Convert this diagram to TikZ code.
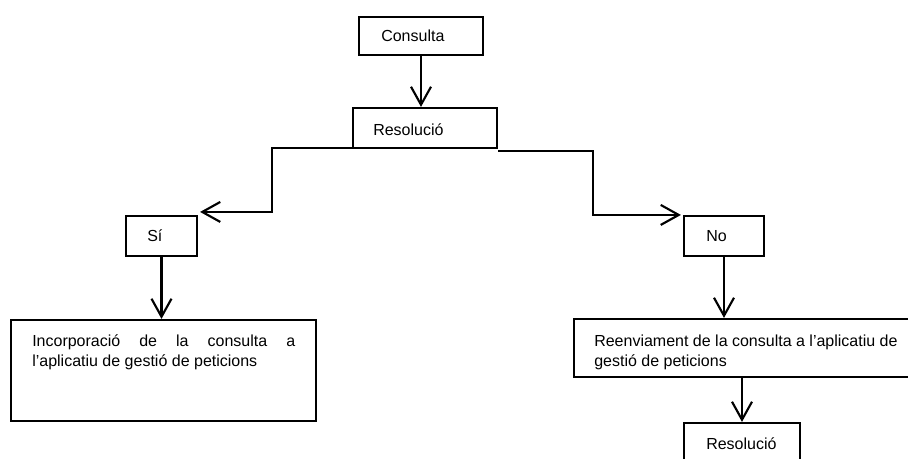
\documentclass[tikz,border=0pt]{standalone}
\usepackage{fontspec}
\setmainfont{Liberation Sans}
\usetikzlibrary{arrows.meta,calc}
\begin{document}
\begin{tikzpicture}[x=0.75pt,y=-0.75pt,
  box/.style={draw,line width=1.6pt,rectangle,inner sep=0pt},
  lbl/.style={inner sep=0pt,anchor=base west,font=\fontsize{12}{15}\selectfont},
  para/.style={inner sep=0pt,anchor=north west,align=left,font=\fontsize{12}{15}\selectfont},
  arr/.style={line width=1.6pt,-{Straight Barb[length=13.5pt,width=15pt,line width=1.6pt]}}]
\useasboundingbox (0,0) rectangle (908,458);
\clip (0,0) rectangle (908,458);
% boxes
\node[box,minimum width=93pt,minimum height=28.5pt] (cons) at (421,36) {};
\node[box,minimum width=108pt,minimum height=30pt] (res1) at (425,128) {};
\node[box,minimum width=53.25pt,minimum height=30pt] (si) at (161.5,236) {};
\node[box,minimum width=60pt,minimum height=30pt] (no) at (724,236) {};
\node[box,minimum width=228.75pt,minimum height=75.75pt] (inc) at (163.5,370.5) {};
\node[box,minimum width=263.25pt,minimum height=43.5pt] (reen) at (749.5,348) {};
\node[box,minimum width=87pt,minimum height=35.25pt] (res2) at (742,446.5) {};
% texts
\node[lbl] (tcons) at (381,41) {Consulta};
\node[lbl] (tres1) at (373,135) {Resolució};
\node[lbl] (tsi) at (147,241) {Sí};
\node[lbl] (tno) at (706,241) {No};
\node[para] (tinc) at (32,332) {\strut\makebox[197.25pt][s]{Incorporació de la consulta a}\\l’aplicatiu de gestió de peticions};
\node[para] (treen) at (594,332) {\strut Reenviament de la consulta a l’aplicatiu de\\gestió de peticions};
\node[lbl] (tres2) at (706,449) {Resolució};
% connectors
\draw[arr] (cons.south) -- (cons.south |- res1.north);
\draw[arr] ($(res1.south west)+(0,-1)$) -- ++(-80,0) |- ($(si.north east)+(2,-3)$);
\draw[arr] ($(res1.south east)+(0,2)$) -- ++(95,0) |- ($(no.north west)+(-2,0)$);
\draw[arr] (si.south) -- (si.south |- inc.north);
\draw[arr] (no.south) -- (no.south |- reen.north);
\draw[arr] (res2.north |- reen.south) -- (res2.north);
\end{tikzpicture}
\end{document}
